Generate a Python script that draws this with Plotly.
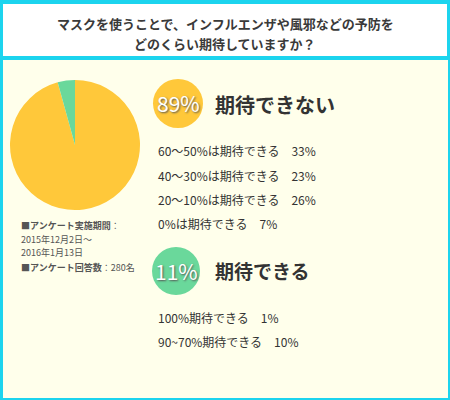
import plotly.graph_objects as go

# values as drawn in the picture
pie_labels = ["期待できない", "期待できる"]
pie_shares = [95.7, 4.3]
pie_colors = ["#FFC83A", "#6AD89B"]

title_lines = ["マスクを使うことで、インフルエンザや風邪などの予防を",
               "どのくらい期待していますか？"]

no_pct = "89%"
no_head = "期待できない"
no_items = ["60〜50%は期待できる", "40〜30%は期待できる", "20〜10%は期待できる", "0%は期待できる"]
no_vals = ["33%", "23%", "26%", "7%"]

yes_pct = "11%"
yes_head = "期待できる"
yes_items = ["100%期待できる", "90~70%期待できる"]
yes_vals = ["1%", "10%"]

notes = ["<b>■アンケート実施期間</b>：", "2015年12月2日〜", "2016年1月13日",
         "<b>■アンケート回答数</b>：280名"]

W, H = 450, 400
CYAN = "#1CD4EE"
BG = "#FFFFEB"
TXT = "#333333"
FONT = "Noto Sans CJK JP"


def px(x):
    return x / W


def py(y):
    return 1 - y / H


fig = go.Figure()

fig.add_trace(go.Pie(
    labels=pie_labels, values=pie_shares, sort=False, direction="clockwise",
    rotation=0, marker=dict(colors=pie_colors, line=dict(width=0)),
    textinfo="none", hoverinfo="label+percent", showlegend=False,
    domain=dict(x=[px(10), px(140)], y=[py(210), py(80)]),
))


def rect(kind, x0, x1, y0, y1, color):
    return dict(type=kind, xref="paper", yref="paper", x0=px(x0), x1=px(x1),
                y0=py(y1), y1=py(y0), fillcolor=color, line_width=0, layer="below")


shapes = [
    rect("rect", 3, 447, 4, 56, "white"),
    rect("rect", 3, 448, 60, 398, BG),
    rect("circle", 153, 203, 79, 128, pie_colors[0]),
    rect("circle", 152, 200, 247, 295, pie_colors[1]),
]

ann = []


def label(x, y, text, size, color=TXT, anchor="left", **kw):
    ann.append(dict(x=px(x), y=py(y), xref="paper", yref="paper", text=text, showarrow=False,
                    font=dict(size=size, color=color, family=FONT, **kw),
                    xanchor=anchor, yanchor="middle"))


for i, line in enumerate(title_lines):
    label(225, 23 + i * 20, f"<b>{line}</b>", 13, color="#3a3a3a", anchor="center")

label(178, 103, no_pct, 21, color="white", anchor="center", shadow="1px 1px 2px #555")
label(176, 271, yes_pct, 21, color="white", anchor="center", shadow="1px 1px 2px #555")

label(213, 104, f"<b>{no_head}</b>", 20)
label(213, 270, f"<b>{yes_head}</b>", 19)

for i, (t, v) in enumerate(zip(no_items, no_vals)):
    label(156, 151 + i * 24, f"{t}　{v}", 12)
for i, (t, v) in enumerate(zip(yes_items, yes_vals)):
    label(156, 317 + i * 24, f"{t}　{v}", 12)

for t, yy in zip(notes, [225, 239, 252, 267]):
    label(19, yy, t, 9, color="#555555")

fig.update_layout(
    width=W, height=H, margin=dict(l=0, r=0, t=0, b=0),
    paper_bgcolor=CYAN, plot_bgcolor="rgba(0,0,0,0)",
    shapes=shapes, annotations=ann,
)

fig.write_html("out.html", config={"displayModeBar": False},
               post_script="document.body.style.margin='0';")
